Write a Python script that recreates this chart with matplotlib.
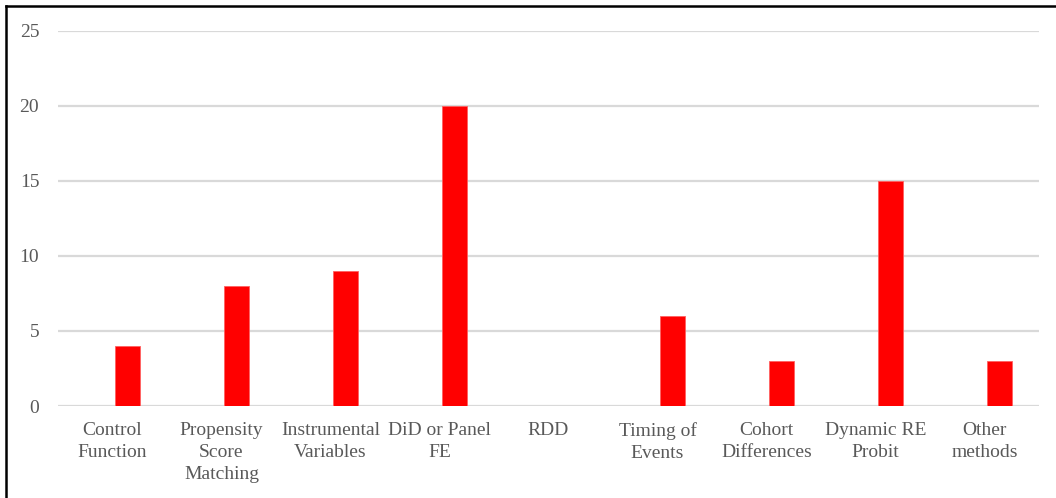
import matplotlib.pyplot as plt
from matplotlib.lines import Line2D
import numpy as np

categories = ["Control\nFunction", "Propensity\nScore\nMatching", "Instrumental\nVariables",
              "DiD or Panel\nFE", "RDD", "Timing of\nEvents", "Cohort\nDifferences",
              "Dynamic RE\nProbit", "Other\nmethods"]
counts = [4, 8, 9, 20, 0, 6, 3, 15, 3]
yticks = [0, 5, 10, 15, 20, 25]

plt.rcParams['font.family'] = ['Liberation Serif', 'DejaVu Serif']

fig = plt.figure(figsize=(10.56, 4.98), dpi=100)
ax = fig.add_axes([0.0549, 0.1847, 0.929, 0.7537])

x = np.arange(len(categories))
ax.bar(x + 0.138, counts, width=0.224, color='#ff0000', edgecolor='#ff6060', linewidth=0.6, zorder=3)

ax.set_xlim(-0.5, len(categories) - 0.5)
ax.set_ylim(0, 25)
ax.set_yticks(yticks)
ax.set_xticks(x)
ax.set_xticklabels(categories, linespacing=1.38)
ax.grid(axis='y', color='#d9d9d9', linewidth=1.6, zorder=0)
ax.set_axisbelow(True)
for s in ax.spines.values():
    s.set_visible(False)
ax.tick_params(axis='both', length=0, labelsize=14, labelcolor='#595959')
ax.tick_params(axis='y', pad=13.5)
ax.tick_params(axis='x', pad=11.5)

# outer frame (top and left only, the rest is cropped away)
fig.add_artist(Line2D([0.0059, 1.0], [0.9875, 0.9875], color='black', linewidth=1.8, transform=fig.transFigure))
fig.add_artist(Line2D([0.0059, 0.0059], [0.0, 0.9875], color='black', linewidth=1.8, transform=fig.transFigure))

fig.savefig('out.png', dpi=100)
